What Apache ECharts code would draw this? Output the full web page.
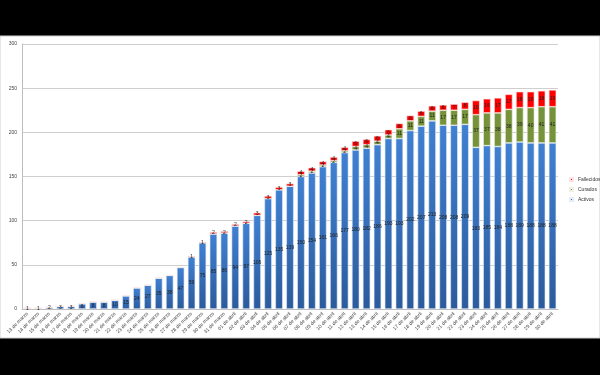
<!DOCTYPE html>
<html><head><meta charset="utf-8">
<script src="https://cdn.jsdelivr.net/npm/echarts@6/dist/echarts.min.js"></script>
<style>html,body{margin:0;padding:0;background:#000;}#c{width:600px;height:375px;}</style>
</head><body><div id="c"></div>
<script>
const categories = ['13 de marzo','14 de marzo','15 de marzo','16 de marzo','17 de marzo','18 de marzo','19 de marzo','20 de marzo','21 de marzo','22 de marzo','23 de marzo','24 de marzo','25 de marzo','26 de marzo','27 de marzo','28 de marzo','29 de marzo','30 de marzo','31 de marzo',
'01 de abril','02 de abril','03 de abril','04 de abril','05 de abril','06 de abril','07 de abril','08 de abril','09 de abril','10 de abril','11 de abril','12 de abril','13 de abril','14 de abril','15 de abril','16 de abril','17 de abril','18 de abril','19 de abril','20 de abril','21 de abril','22 de abril','23 de abril','24 de abril','25 de abril','26 de abril','27 de abril','28 de abril','29 de abril','30 de abril'];
const activos = [1,1,2,3,3,6,8,8,10,15,24,27,35,38,47,59,75,85,86,94,97,106,125,135,139,150,154,161,166,177,180,182,186,193,193,202,207,213,208,208,209,183,185,184,188,189,188,188,188];
const curados = [0,0,0,0,0,0,0,0,0,0,0,0,0,0,0,0,0,0,0,0,0,0,0,0,0,2,2,2,2,2,4,4,4,4,11,11,11,11,17,17,17,37,37,38,38,39,40,41,41];
const fallecidos = [0,0,0,0,0,0,0,0,0,0,0,0,0,0,0,1,1,2,2,2,2,3,3,3,3,4,4,4,4,4,6,6,6,6,6,6,6,6,6,7,8,16,16,17,17,18,18,18,19];
const yTicks = [0,50,100,150,200,250,300];

const FONT = 'Liberation Sans';
const lbl = {show:true, position:'inside', fontSize:5, color:'#222', fontFamily:FONT,
  formatter: p => p.value ? String(p.value) : ''};
const chart = echarts.init(document.getElementById('c'), null, {renderer:'canvas'});
chart.setOption({
  backgroundColor:'#000',
  animation:false,
  graphic:[{type:'rect', z:-10, shape:{x:0,y:36,width:600,height:302}, style:{fill:'#fff', stroke:'#cfcfcf', lineWidth:1}}],
  grid:{left:22, right:42, top:44, bottom:66, containLabel:false},
  legend:{orient:'vertical', left:564, top:172, itemWidth:3, itemHeight:3, itemGap:5,
    data:['Fallecidos','Curados','Activos'], icon:'rect',
    textStyle:{fontSize:5, color:'#333', fontFamily:FONT}},
  xAxis:{type:'category', data:categories,
    axisLine:{lineStyle:{color:'#bdbdbd'}}, axisTick:{show:false},
    axisLabel:{interval:0, rotate:45, fontSize:5, color:'#444', fontFamily:FONT, margin:4}},
  yAxis:{type:'value', min:yTicks[0], max:yTicks[yTicks.length-1], interval:50,
    axisLine:{show:true, lineStyle:{color:'#bdbdbd'}}, axisTick:{show:false},
    splitLine:{lineStyle:{color:'#cfcfcf', width:1}},
    axisLabel:{fontSize:5, color:'#444', fontFamily:FONT, margin:5}},
  series:[
    {name:'Activos', type:'bar', stack:'t', data:activos, barWidth:'68%', label:lbl,
      itemStyle:{color:new echarts.graphic.LinearGradient(0,0,0,1,[{offset:0,color:'#4080d2'},{offset:1,color:'#2b5b9c'}]), borderColor:'#e4ecf6', borderWidth:0.6}},
    {name:'Curados', type:'bar', stack:'t', data:curados, label:lbl,
      itemStyle:{color:'#76923b', borderColor:'#eef2e4', borderWidth:0.6}},
    {name:'Fallecidos', type:'bar', stack:'t', data:fallecidos, label:lbl,
      itemStyle:{color:'#ff0000', borderColor:'#fde4e4', borderWidth:0.6}}
  ]
});
</script></body></html>
